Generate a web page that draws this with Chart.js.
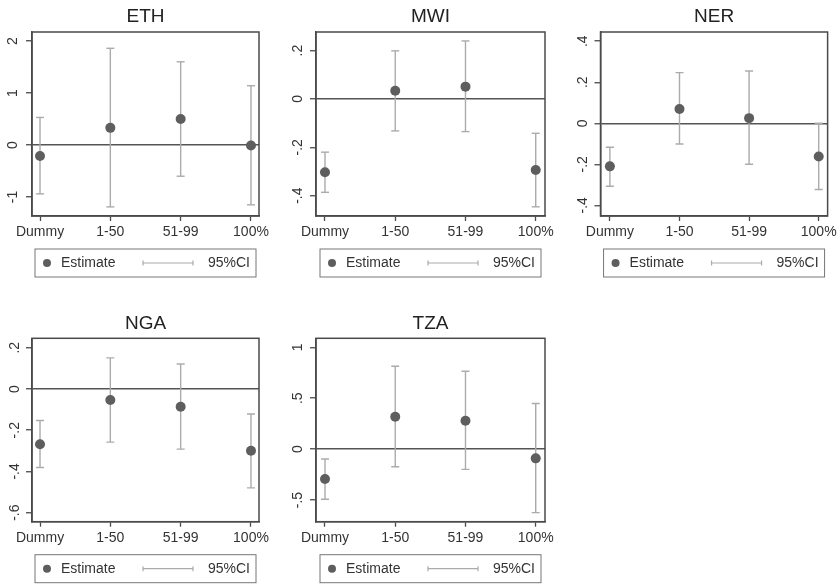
<!DOCTYPE html>
<html>
<head>
<meta charset="utf-8">
<script src="https://cdn.jsdelivr.net/npm/chart.js@4.4.1/dist/chart.umd.min.js"></script>
<style>
    body { margin: 0; background: #fff; width: 840px; height: 585px; position: relative; overflow: hidden; }
    .panel { position: absolute; }
</style>
</head>
<body>
<div class="panel" style="left:0;top:0"><canvas id="ethChart" width="280" height="290"></canvas></div>
<div class="panel" style="left:280px;top:0"><canvas id="mwiChart" width="280" height="290"></canvas></div>
<div class="panel" style="left:560px;top:0"><canvas id="nerChart" width="280" height="290"></canvas></div>
<div class="panel" style="left:0;top:290px"><canvas id="ngaChart" width="280" height="295"></canvas></div>
<div class="panel" style="left:280px;top:290px"><canvas id="tzaChart" width="280" height="295"></canvas></div>
<script>
// categories on the x axis
const categories = ['Dummy', '1-50', '51-99', '100%'];

// ETH
const ethEstimate = [-0.21, 0.33, 0.50, -0.01];
const ethLower = [-0.94, -1.19, -0.60, -1.15];
const ethUpper = [0.53, 1.86, 1.60, 1.14];
const ethTicks = [-1, 0, 1, 2];

// MWI
const mwiEstimate = [-0.303, 0.034, 0.051, -0.294];
const mwiLower = [-0.386, -0.132, -0.135, -0.446];
const mwiUpper = [-0.220, 0.199, 0.240, -0.142];
const mwiTicks = [-0.4, -0.2, 0, 0.2];

// NER
const nerEstimate = [-0.210, 0.070, 0.025, -0.162];
const nerLower = [-0.307, -0.101, -0.200, -0.323];
const nerUpper = [-0.117, 0.247, 0.255, 0.000];
const nerTicks = [-0.4, -0.2, 0, 0.2, 0.4];

// NGA
const ngaEstimate = [-0.268, -0.053, -0.086, -0.300];
const ngaLower = [-0.381, -0.258, -0.292, -0.480];
const ngaUpper = [-0.153, 0.151, 0.121, -0.121];
const ngaTicks = [-0.6, -0.4, -0.2, 0, 0.2];

// TZA
const tzaEstimate = [-0.294, 0.317, 0.278, -0.091];
const tzaLower = [-0.493, -0.173, -0.199, -0.624];
const tzaUpper = [-0.098, 0.814, 0.765, 0.448];
const tzaTicks = [-0.5, 0, 0.5, 1];

const FONT = '"Liberation Sans", Arial, Helvetica, sans-serif';
const pointColor = '#5e5e5e';
const ciColor = '#ababab';
const axisColor = '#4a4a4a';

// Stata style labels: ".2", "-.4"
function stataLabel(v) {
    return String(Math.round(v * 10) / 10).replace(/^(-?)0\./, '$1.');
}

// box, title and legend drawn around each panel
const panelDecor = {
    id: 'panelDecor',
    afterDraw(chart, args, opts) {
        const { ctx, chartArea } = chart;
        const cx = (chartArea.left + chartArea.right) / 2;
        ctx.save();

        // plot box
        ctx.strokeStyle = axisColor;
        ctx.lineWidth = 1.5;
        ctx.strokeRect(chartArea.left, chartArea.top, chartArea.right - chartArea.left, chartArea.bottom - chartArea.top);

        // title
        ctx.fillStyle = '#222';
        ctx.font = '19px ' + FONT;
        ctx.textAlign = 'center';
        ctx.textBaseline = 'middle';
        ctx.fillText(opts.title, cx, chartArea.top - 15);

        // legend
        const L = cx - 110.5;
        const T = chartArea.bottom + 33;
        const mid = T + 14;
        ctx.strokeStyle = '#777';
        ctx.lineWidth = 1;
        ctx.strokeRect(L, T, 221, 28);

        ctx.fillStyle = pointColor;
        ctx.beginPath();
        ctx.arc(L + 12, mid, 4, 0, Math.PI * 2);
        ctx.fill();

        ctx.fillStyle = '#333';
        ctx.font = '14px ' + FONT;
        ctx.textAlign = 'left';
        ctx.fillText('Estimate', L + 26, mid);

        ctx.strokeStyle = ciColor;
        ctx.lineWidth = 1.2;
        ctx.beginPath();
        ctx.moveTo(L + 108, mid);
        ctx.lineTo(L + 158, mid);
        ctx.moveTo(L + 108, mid - 2.5);
        ctx.lineTo(L + 108, mid + 2.5);
        ctx.moveTo(L + 158, mid - 2.5);
        ctx.lineTo(L + 158, mid + 2.5);
        ctx.stroke();

        ctx.textAlign = 'right';
        ctx.fillText('95%CI', L + 215, mid);
        ctx.restore();
    }
};

function buildPanel(cfg) {
    const points = cfg.estimate.map((v, i) => ({ x: i + 1, y: v }));
    const whiskers = [];
    cfg.lower.forEach((lo, i) => {
        whiskers.push({ x: i + 1, y: lo });
        whiskers.push({ x: i + 1, y: cfg.upper[i] });
        whiskers.push({ x: i + 1, y: null });
    });

    const canvas = document.getElementById(cfg.id);
    return new Chart(canvas, {
        type: 'scatter',
        data: {
            datasets: [{
                label: 'Estimate',
                data: points,
                pointRadius: 5,
                pointBackgroundColor: pointColor,
                pointBorderWidth: 0
            }, {
                type: 'line',
                label: '95%CI',
                data: whiskers,
                showLine: true,
                spanGaps: false,
                borderColor: ciColor,
                borderWidth: 1.4,
                pointStyle: 'line',
                pointRadius: 4,
                pointBorderColor: ciColor,
                pointBorderWidth: 1.4
            }]
        },
        options: {
            responsive: false,
            animation: false,
            layout: {
                padding: {
                    left: 0,
                    top: cfg.area.top,
                    right: canvas.width - cfg.area.right,
                    bottom: canvas.height - cfg.area.bottom - 28
                }
            },
            plugins: {
                legend: { display: false },
                tooltip: { enabled: false },
                panelDecor: { title: cfg.title }
            },
            scales: {
                x: {
                    type: 'linear',
                    min: cfg.xRange[0],
                    max: cfg.xRange[1],
                    afterBuildTicks: s => { s.ticks = categories.map((c, i) => ({ value: i + 1 })); },
                    afterFit: s => { s.height = 28; },
                    ticks: {
                        callback: v => categories[v - 1],
                        autoSkip: false,
                        maxRotation: 0,
                        padding: 3,
                        color: '#333',
                        font: { family: FONT, size: 14 }
                    },
                    grid: { drawOnChartArea: false, tickLength: 5, tickColor: axisColor, tickWidth: 1.3 },
                    border: { display: true, color: axisColor, width: 1.5 }
                },
                y: {
                    min: cfg.yRange[0],
                    max: cfg.yRange[1],
                    afterBuildTicks: s => { s.ticks = cfg.ticks.map(v => ({ value: v })); },
                    afterFit: s => { s.width = cfg.area.left; },
                    ticks: {
                        callback: v => stataLabel(v),
                        minRotation: 90,
                        maxRotation: 90,
                        crossAlign: 'center',
                        padding: cfg.labelPad,
                        color: '#333',
                        font: { family: FONT, size: 14 }
                    },
                    grid: {
                        color: c => (c.tick && c.tick.value === 0) ? '#555' : 'rgba(0,0,0,0)',
                        lineWidth: 1.5,
                        tickLength: 6,
                        tickColor: axisColor,
                        tickWidth: 1.3
                    },
                    border: { display: true, color: axisColor, width: 1.5 }
                }
            }
        },
        plugins: [panelDecor]
    });
}

buildPanel({ id: 'ethChart', title: 'ETH', estimate: ethEstimate, lower: ethLower, upper: ethUpper, ticks: ethTicks,
    yRange: [-1.365, 2.173], xRange: [0.886, 4.114], area: { left: 32, right: 259, top: 32, bottom: 216 }, labelPad: 7 });
buildPanel({ id: 'mwiChart', title: 'MWI', estimate: mwiEstimate, lower: mwiLower, upper: mwiUpper, ticks: mwiTicks,
    yRange: [-0.484, 0.277], xRange: [0.872, 4.132], area: { left: 36, right: 265, top: 32, bottom: 216 }, labelPad: 4 });
buildPanel({ id: 'nerChart', title: 'NER', estimate: nerEstimate, lower: nerLower, upper: nerUpper, ticks: nerTicks,
    yRange: [-0.452, 0.445], xRange: [0.865, 4.128], area: { left: 40.5, right: 270, top: 32, bottom: 216 }, labelPad: 3 });
buildPanel({ id: 'ngaChart', title: 'NGA', estimate: ngaEstimate, lower: ngaLower, upper: ngaUpper, ticks: ngaTicks,
    yRange: [-0.644, 0.246], xRange: [0.886, 4.114], area: { left: 32, right: 259, top: 48.3, bottom: 231.7 }, labelPad: 3 });
buildPanel({ id: 'tzaChart', title: 'TZA', estimate: tzaEstimate, lower: tzaLower, upper: tzaUpper, ticks: tzaTicks,
    yRange: [-0.713, 1.088], xRange: [0.872, 4.132], area: { left: 36, right: 265, top: 48.3, bottom: 231.7 }, labelPad: 4 });
</script>
</body>
</html>
